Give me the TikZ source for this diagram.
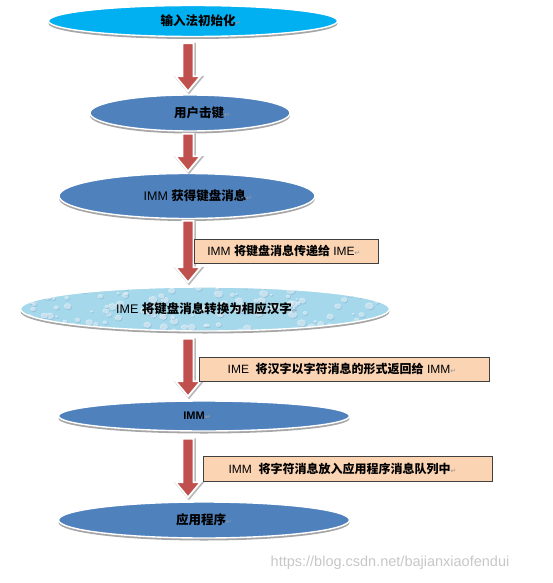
\documentclass[tikz,border=0pt]{standalone}
\usepackage{fontspec}
\setmainfont{Liberation Sans}
\newfontfamily\cjk{Noto Sans CJK SC}
\newfontfamily\dvs{DejaVu Sans}
\usetikzlibrary{shapes.geometric,shadows,calc}
\definecolor{topblue}{HTML}{00B0F0}
\definecolor{officeblue}{HTML}{4F81BD}
\definecolor{waterblue}{HTML}{A4D8EA}
\definecolor{arrowred}{HTML}{C0504D}
\definecolor{peach}{HTML}{FBD4B4}
\newcommand\zh[1]{{\cjk\bfseries #1}}
\newcommand\pmark{{\dvs\fontsize{7}{7}\selectfont\color{black!40}↵}}
\newcommand\fatarrow[2]{%
  \draw[black!28, line width=2.6pt, line join=miter, transform canvas={shift={(1pt,-1pt)}}]
    let \p1=(#1), \p2=(#2) in
    (\x1-5.5pt,\y1) -- (\x1+5.5pt,\y1) -- (\x1+5.5pt,\y2+15pt) -- (\x1+12.5pt,\y2+15pt)
    -- (\x1,\y2) -- (\x1-12.5pt,\y2+15pt) -- (\x1-5.5pt,\y2+15pt) -- cycle;
  \draw[white, line width=1.8pt, line join=miter, fill=arrowred]
    let \p1=(#1), \p2=(#2) in
    (\x1-5.5pt,\y1) -- (\x1+5.5pt,\y1) -- (\x1+5.5pt,\y2+15pt) -- (\x1+12.5pt,\y2+15pt)
    -- (\x1,\y2) -- (\x1-12.5pt,\y2+15pt) -- (\x1-5.5pt,\y2+15pt) -- cycle;
}
\tikzset{
  stage/.style={ellipse, inner sep=0pt, draw=white, line width=1.4pt, fill=officeblue,
    drop shadow={shadow xshift=0pt, shadow yshift=-2.5pt, fill=black!35, opacity=1},
    font=\fontsize{12.5}{14}\selectfont, text=black},
  note/.style={rectangle, inner sep=0pt, draw=black!75, line width=0.8pt, fill=peach,
    font=\fontsize{12}{14}\selectfont, minimum height=24pt, text=black},
  water/.style={fill=waterblue, path picture={
    \pgfmathsetseed{7}
    \foreach \i in {1,...,140}{
      \pgfmathsetmacro\dx{rand*185}
      \pgfmathsetmacro\dy{rand*23}
      \pgfmathsetmacro\dr{1.2+3.5*rnd}
      \fill[officeblue, opacity=.25] ([shift={(\dx pt+0.7pt,\dy pt-0.9pt)}]path picture bounding box.center) ellipse ({\dr pt} and {0.8*\dr pt});
      \fill[white, opacity=.5] ([shift={(\dx pt,\dy pt)}]path picture bounding box.center) ellipse ({\dr pt} and {0.8*\dr pt});
    }}},
}
\begin{document}
\begin{tikzpicture}[x=1pt,y=-1pt]
\useasboundingbox (0,0) rectangle (553,583);
\coordinate (ax) at (188,0);
\node[stage, fill=topblue, minimum width=289pt, minimum height=31pt] (e1) at (193,21) {\hspace*{16pt}\zh{输入法初始化}\pmark};
\node[stage, minimum width=200pt, minimum height=36pt] (e2) at (190,113) {\hspace*{24pt}\zh{用户击键}\pmark};
\node[stage, minimum width=256pt, minimum height=45pt] (e3) at (187,196) {\hspace*{22pt}IMM \zh{获得键盘消息}\pmark};
\node[stage, water, minimum width=369pt, minimum height=44pt] (e4) at (205,309) {\hspace*{4pt}IME \zh{将键盘消息转换为相应汉字}\pmark};
\node[stage, minimum width=291pt, minimum height=30pt, font=\fontsize{11}{13}\selectfont\bfseries] (e5) at (204,416) {IMM\pmark\hspace*{14pt}};
\node[stage, minimum width=291pt, minimum height=36pt] (e6) at (204,520) {\zh{应用程序}\pmark};

\fatarrow{$(e1.south -| ax)+(0,6)$}{$(e2.north -| ax)+(0,-3)$}
\fatarrow{$(e2.south -| ax)+(0,2)$}{$(e3.north -| ax)+(0,-1.5)$}
\fatarrow{$(e3.south -| ax)+(0,1.5)$}{$(e4.north -| ax)+(0,-4)$}
\fatarrow{$(e4.south -| ax)+(0,7)$}{$(e5.north -| ax)+(0,-4)$}
\fatarrow{$(e5.south -| ax)+(0,7)$}{$(e6.north -| ax)+(0,-4)$}

\node[note, minimum width=184pt] (n1) at (286,251) {IMM \zh{将键盘消息传递给} IME\pmark\hspace*{4pt}};
\node[note, minimum width=290pt] (n2) at (344,369) {IME\ \ \zh{将汉字以字符消息的形式返回给} IMM\pmark\hspace*{4pt}};
\node[note, minimum width=289pt, minimum height=25pt] (n3) at (347.5,468.5) {IMM\ \ \zh{将字符消息放入应用程序消息队列中}\pmark\hspace*{10pt}};

\node[text=black!22, font=\fontsize{14.5}{16}\selectfont] (wm) at (390,563) {https://blog.csdn.net/bajianxiaofendui};
\end{tikzpicture}
\end{document}
